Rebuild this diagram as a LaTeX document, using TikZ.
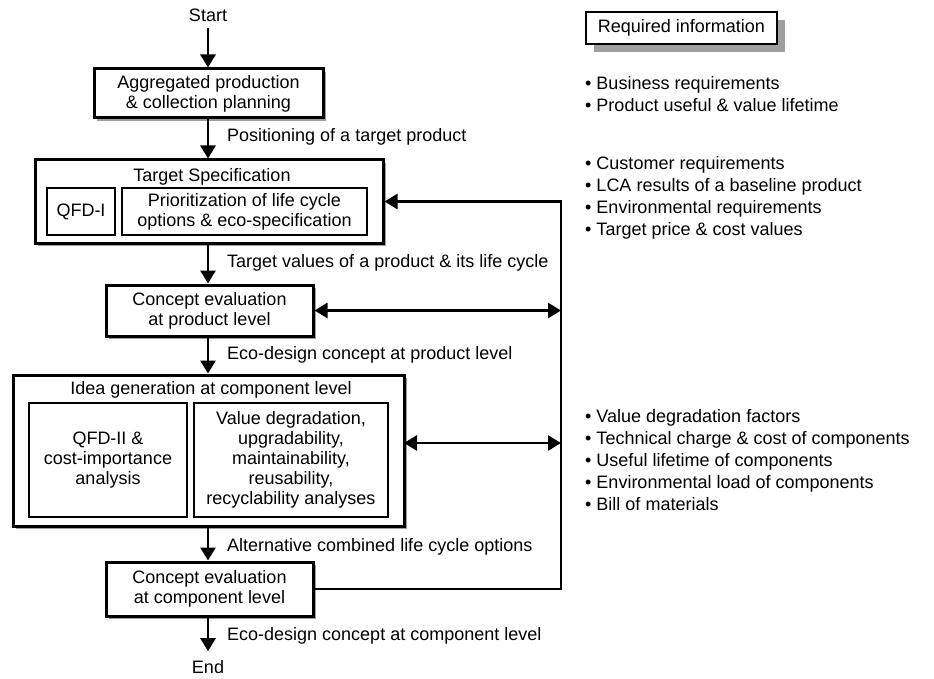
\documentclass[tikz,border=0pt]{standalone}
\usepackage{fontspec}
\setmainfont{Liberation Sans}
\usetikzlibrary{arrows.meta,shadows,calc}
\begin{document}
\begin{tikzpicture}[x=1pt,y=-1pt,
  font=\fontsize{18}{20}\selectfont,
  mainbox/.style={draw, line width=3pt, fill=white, align=center, inner sep=0pt,
    drop shadow={shadow xshift=3pt, shadow yshift=-3pt, fill=gray!75, opacity=1}},
  innerbox/.style={draw, line width=1.3pt, fill=white, align=center, inner sep=0pt},
  reqbox/.style={draw, line width=1.4pt, fill=white, align=center, inner sep=0pt,
    drop shadow={shadow xshift=8pt, shadow yshift=-8pt, fill=gray!75, opacity=1}},
  flow/.style={line width=2.7pt, line join=miter, -{Triangle[length=13pt,width=15pt]}},
  dflow/.style={line width=2.7pt, {Triangle[length=13pt,width=15pt]}-{Triangle[length=13pt,width=15pt]}},
  lbl/.style={anchor=west, inner sep=0pt},
  list/.style={anchor=west, align=left, inner sep=0pt, font=\fontsize{18}{22}\selectfont},
]
\useasboundingbox (0,0) rectangle (934,679);

% terminals
\node[inner sep=0pt] (start) at (208,15) {Start};
\node[inner sep=0pt] (end) at (208,667) {End};

% main boxes
\node[mainbox, minimum width=229pt, minimum height=49pt] (b1) at (208.5,93.5)
  {Aggregated production\\\& collection planning};
\node[mainbox, minimum width=348pt, minimum height=83pt] (b2) at (209,201.5) {};
\node[inner sep=0pt] (b2t) at (212,177) {Target Specification};
\node[innerbox, minimum width=68pt, minimum height=47pt] (qfd1) at (81,211.5) {QFD-I};
\node[innerbox, minimum width=245pt, minimum height=47pt] (prio) at (244.5,211.5)
  {Prioritization of life cycle\\options \& eco-specification};

\node[mainbox, minimum width=207pt, minimum height=51pt] (b3) at (209.5,310.5)
  {Concept evaluation\\at product level};

\node[mainbox, minimum width=391pt, minimum height=151pt] (b4) at (208.5,450.5) {};
\node[inner sep=0pt] (b4t) at (211,390) {Idea generation at component level};
\node[innerbox, minimum width=158pt, minimum height=114pt] (qfd2) at (108,460)
  {QFD-II \&\\cost-importance\\analysis};
\node[innerbox, minimum width=194pt, minimum height=114pt] (vda) at (291,460)
  {Value degradation,\\upgradability,\\maintainability,\\reusability,\\recyclability analyses};

\node[mainbox, minimum width=207pt, minimum height=54pt] (b5) at (209.5,589)
  {Concept evaluation\\at component level};

% flow arrows
\draw[flow] ([yshift=-6pt]start.south) -- (start.south |- b1.north);
\draw[flow] (b1.south -| start.south) -- (start.south |- b2.north);
\draw[flow] (b2.south -| start.south) -- (start.south |- b3.north);
\draw[flow] (b3.south -| start.south) -- (start.south |- b4.north);
\draw[flow] (b4.south -| start.south) -- (start.south |- b5.north);
\draw[flow] (b5.south -| start.south) -- ([yshift=9pt]end.north);

% arrow labels
\node[lbl] (l1) at (227,137) {Positioning of a target product};
\node[lbl] (l2) at (227,263) {Target values of a product \& its life cycle};
\node[lbl] (l3) at (227,355) {Eco-design concept at product level};
\node[lbl] (l4) at (227,547) {Alternative combined life cycle options};
\node[lbl] (l5) at (227,636) {Eco-design concept at component level};

% feedback
\coordinate (vx) at (561,0);
\coordinate (b4r) at (404,443);
\draw[flow] (b5.east) -- (b5.east -| vx) -- (b2.east -| vx) -- (b2.east);
\draw[dflow] (b3.east) -- (b3.east -| vx);
\draw[dflow] (b4r) -- (b4r -| vx);

% required information
\node[reqbox, minimum width=191pt, minimum height=32pt] (req) at (681.5,28) {Required information};
\node[list] (r1) at (585,94) {• Business requirements\\• Product useful \& value lifetime};
\node[list] (r2) at (585,198) {• Customer requirements\\• LCA results of a baseline product\\• Environmental requirements\\• Target price \& cost values};
\node[list] (r3) at (585,460.5) {• Value degradation factors\\• Technical charge \& cost of components\\• Useful lifetime of components\\• Environmental load of components\\• Bill of materials};
\end{tikzpicture}
\end{document}
